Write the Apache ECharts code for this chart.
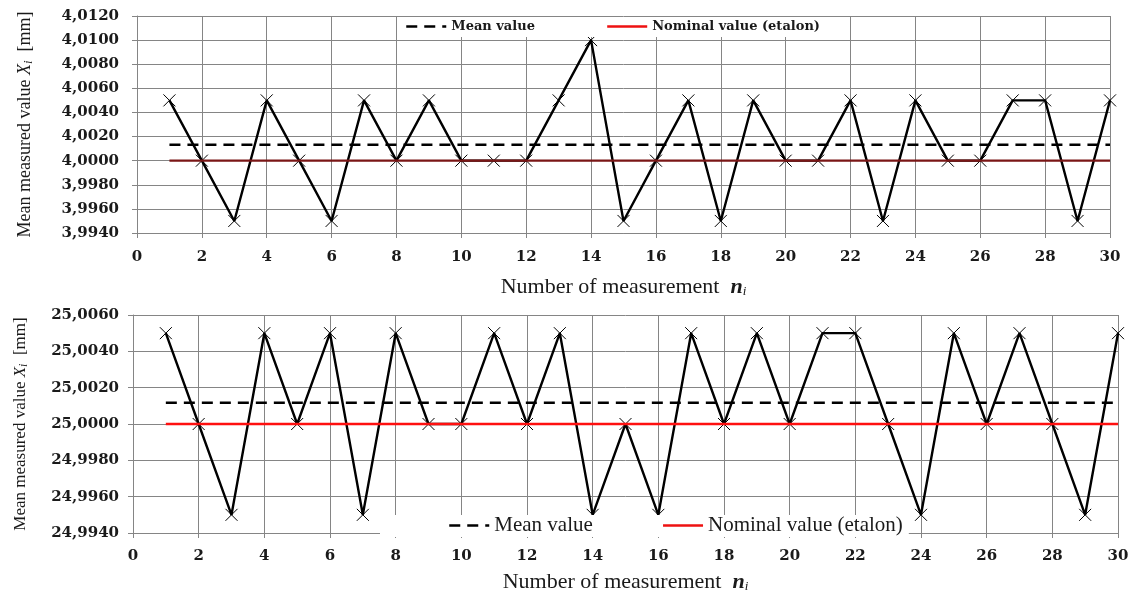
<!DOCTYPE html>
<html>
<head>
<meta charset="utf-8">
<title>Mean measured value</title>
<script src="https://cdn.jsdelivr.net/npm/echarts@6/dist/echarts.min.js"></script>
<style>
    html, body { margin: 0; padding: 0; background: #fff; }
    #chart { width: 1135px; height: 595px; }
</style>
</head>
<body>
<div id="chart"></div>
<script>
// Olcum numaralari (1..30)
const measurements = [1, 2, 3, 4, 5, 6, 7, 8, 9, 10, 11, 12, 13, 14, 15, 16, 17, 18, 19, 20, 21, 22, 23, 24, 25, 26, 27, 28, 29, 30];

// Ust grafik: 4 mm etalon
const valuesTop = [4.005, 4.000, 3.995, 4.005, 4.000, 3.995, 4.005, 4.000, 4.005, 4.000,
    4.000, 4.000, 4.005, 4.010, 3.995, 4.000, 4.005, 3.995, 4.005, 4.000,
    4.000, 4.005, 3.995, 4.005, 4.000, 4.000, 4.005, 4.005, 3.995, 4.005];
const meanTop = 4.00133;
const nominalTop = 4.0000;

// Alt grafik: 25 mm etalon
const valuesBottom = [25.005, 25.000, 24.995, 25.005, 25.000, 25.005, 24.995, 25.005, 25.000, 25.000,
    25.005, 25.000, 25.005, 24.995, 25.000, 24.995, 25.005, 25.000, 25.005, 25.000,
    25.005, 25.005, 25.000, 24.995, 25.005, 25.000, 25.005, 25.000, 24.995, 25.005];
const meanBottom = 25.00117;
const nominalBottom = 25.0000;

// Eksen sinirlari
const yRangeTop = [3.994, 4.012];
const yRangeBottom = [24.994, 25.006];
const yStep = 0.002;
const xRange = [0, 30];
const xStep = 2;

const gridColor = '#858585';
const textColor = '#1a1a1a';
const legendRed = '#ee1111';
const crossSymbol = 'path://M0,0L10,10M10,0L0,10';

function pairs(xs, ys) {
    return xs.map((x, i) => [x, ys[i]]);
}
function flatLine(value) {
    // ilk ve son olcum arasinda yatay cizgi
    return [[measurements[0], value], [measurements[measurements.length - 1], value]];
}

function xAxisFor(gridIndex, nameGap, labelMargin) {
    return {
        type: 'value',
        gridIndex: gridIndex,
        min: xRange[0],
        max: xRange[1],
        interval: xStep,
        name: 'Number of measurement  {it|n}{sub|i}',
        nameLocation: 'middle',
        nameGap: nameGap,
        nameTextStyle: {
            fontFamily: 'Liberation Serif',
            fontSize: 22,
            color: textColor,
            rich: {
                it: { fontFamily: 'Liberation Serif', fontSize: 22, fontStyle: 'italic', fontWeight: 'bold', color: textColor },
                sub: { fontFamily: 'Liberation Serif', fontSize: 13, fontStyle: 'italic', color: textColor, padding: [9, 0, 0, 0] }
            }
        },
        axisLine: { lineStyle: { color: gridColor, width: 1 } },
        axisTick: { show: true, inside: false, length: 5, lineStyle: { color: gridColor } },
        axisLabel: {
            fontFamily: 'DejaVu Serif',
            fontWeight: 'bold',
            fontSize: 15,
            color: textColor,
            margin: labelMargin
        },
        splitLine: { show: true, lineStyle: { color: gridColor, width: 1 } }
    };
}

function yAxisFor(gridIndex, range, nameGap, nameSize, labelMargin) {
    return {
        type: 'value',
        gridIndex: gridIndex,
        min: range[0],
        max: range[1],
        interval: yStep,
        name: 'Mean measured value {it|X}{sub|i}  [mm]',
        nameLocation: 'middle',
        nameGap: nameGap,
        nameRotate: 90,
        nameTextStyle: {
            fontFamily: 'Liberation Serif',
            fontSize: nameSize,
            color: textColor,
            rich: {
                it: { fontFamily: 'Liberation Serif', fontSize: nameSize, fontStyle: 'italic', color: textColor },
                sub: { fontFamily: 'Liberation Serif', fontSize: nameSize - 5, fontStyle: 'italic', color: textColor, padding: [6, 0, 0, 0] }
            }
        },
        axisLine: { show: true, lineStyle: { color: gridColor, width: 1 } },
        axisTick: { show: true, inside: false, length: 5, lineStyle: { color: gridColor } },
        axisLabel: {
            fontFamily: 'DejaVu Serif',
            fontWeight: 'bold',
            fontSize: 15,
            color: textColor,
            margin: labelMargin,
            formatter: (v) => v.toFixed(4).replace('.', ',')
        },
        splitLine: { show: true, lineStyle: { color: gridColor, width: 1 } }
    };
}

function measuredSeries(axisIndex, values) {
    return {
        name: 'Measured',
        type: 'line',
        xAxisIndex: axisIndex,
        yAxisIndex: axisIndex,
        data: pairs(measurements, values),
        symbol: crossSymbol,
        symbolSize: 12,
        showAllSymbol: true,
        itemStyle: { color: 'transparent', borderColor: '#000', borderWidth: 1 },
        lineStyle: { color: '#000', width: 2.4 },
        z: 3,
        animation: false
    };
}

function meanSeries(axisIndex, value) {
    return {
        name: 'Mean value',
        type: 'line',
        xAxisIndex: axisIndex,
        yAxisIndex: axisIndex,
        data: flatLine(value),
        symbol: 'none',
        lineStyle: { color: '#000', width: 2.5, type: [11, 7] },
        itemStyle: { color: '#000' },
        z: 4,
        animation: false
    };
}

function nominalSeries(axisIndex, value, color) {
    return {
        name: 'Nominal value (etalon)',
        type: 'line',
        xAxisIndex: axisIndex,
        yAxisIndex: axisIndex,
        data: flatLine(value),
        symbol: 'none',
        lineStyle: { color: color, width: 2.4 },
        itemStyle: { color: color },
        z: 5,
        animation: false
    };
}

// Lejant ogeleri: ayni isim iki grafikte, renkleri burada sabitliyoruz
const legendItems = [
    { name: 'Mean value', lineStyle: { color: '#000', type: [11, 7], width: 2.5 } },
    { name: 'Nominal value (etalon)', lineStyle: { color: legendRed, type: 'solid', width: 2.5 } }
];

const chart = echarts.init(document.getElementById('chart'));

const option = {
    backgroundColor: '#fff',
    animation: false,
    grid: [
        { left: 137, right: 25, top: 16, height: 217 },
        { left: 133, right: 17, top: 315, height: 218 }
    ],
    legend: [
        {
            data: legendItems,
            left: 397,
            top: 17,
            itemGap: 71,
            itemWidth: 40,
            itemHeight: 12,
            backgroundColor: '#fff',
            padding: [3, 10, 4, 8],
            selectedMode: false,
            itemStyle: { opacity: 0 },
            textStyle: { fontFamily: 'DejaVu Serif', fontWeight: 'bold', fontSize: 13, color: textColor }
        },
        {
            data: legendItems,
            left: 380,
            top: 515,
            itemGap: 69,
            itemWidth: 40,
            itemHeight: 12,
            backgroundColor: '#fff',
            padding: [0, 6, 1, 68],
            selectedMode: false,
            itemStyle: { opacity: 0 },
            textStyle: { fontFamily: 'Liberation Serif', fontSize: 21, color: textColor }
        }
    ],
    xAxis: [xAxisFor(0, 43, 17), xAxisFor(1, 38, 16)],
    yAxis: [yAxisFor(0, yRangeTop, 102, 18, 18), yAxisFor(1, yRangeBottom, 103, 17, 14)],
    series: [
        measuredSeries(0, valuesTop),
        meanSeries(0, meanTop),
        nominalSeries(0, nominalTop, '#7a1616'),
        measuredSeries(1, valuesBottom),
        meanSeries(1, meanBottom),
        nominalSeries(1, nominalBottom, '#ff1010')
    ]
};

chart.setOption(option);
</script>
</body>
</html>
